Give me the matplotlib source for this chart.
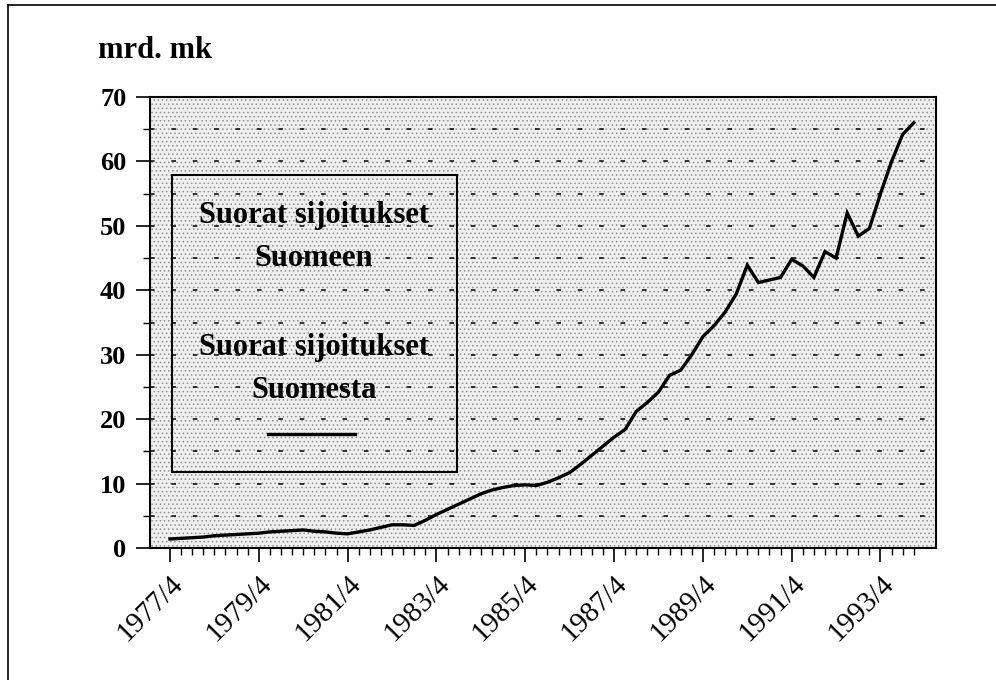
import matplotlib.pyplot as plt
from matplotlib.patches import Rectangle
from matplotlib.lines import Line2D
import numpy as np

# kvartaalit 1977/4 ... 1994/3, mrd. mk
start_year = 1977
start_quarter = 4
suomesta = [1.4, 1.5, 1.6, 1.7, 1.9, 2.0, 2.1, 2.2, 2.3, 2.5,
            2.6, 2.7, 2.8, 2.6, 2.5, 2.3, 2.2, 2.5, 2.8, 3.2,
            3.6, 3.6, 3.5, 4.3, 5.2, 6.0, 6.8, 7.6, 8.4, 9.0,
            9.4, 9.7, 9.8, 9.7, 10.2, 10.9, 11.7, 13.0, 14.4, 15.8,
            17.2, 18.4, 21.2, 22.6, 24.2, 26.8, 27.6, 30.0, 32.8, 34.5,
            36.6, 39.4, 43.9, 41.2, 41.6, 42.0, 44.8, 43.8, 42.0, 46.0,
            45.0, 52.0, 48.4, 49.6, 55.0, 60.0, 64.2, 66.0]
legend_lines = ["Suorat sijoitukset", "Suomeen", "Suorat sijoitukset", "Suomesta"]
y_label = "mrd. mk"

n = len(suomesta)
x = np.arange(n)
tick_pos = np.arange(0, n, 8)
tick_labels = []
for p in tick_pos:
    q = start_quarter - 1 + p
    tick_labels.append("%d/%d" % (start_year + q // 4, q % 4 + 1))

serif = ["Liberation Serif", "DejaVu Serif"]
plt.rcParams['font.family'] = serif
plt.rcParams['hatch.linewidth'] = 0.6

fig = plt.figure(figsize=(9.96, 6.8), dpi=100)
ax = fig.add_axes([150 / 996, 132 / 680, 786 / 996, 451 / 680])

# stippled background
ax.patch.set_facecolor('#efefef')
ax.add_patch(Rectangle((0, 0), 1, 1, transform=ax.transAxes, facecolor='none',
                       edgecolor='#8f8f8f', hatch='....', lw=0, zorder=0))

for g in range(5, 70, 5):
    ax.axhline(g, color='black', lw=1.1, ls=(0, (3, 11)), zorder=1)

ax.plot(x, suomesta, color='black', lw=2.4, zorder=3, solid_joinstyle='miter')

ax.set_xlim(-1.8, 69)
ax.set_ylim(0, 70)
ax.set_yticks(range(0, 71, 10))
ax.set_yticks(range(5, 70, 10), minor=True)
ax.set_xticks(tick_pos)
ax.set_xticks(x, minor=True)
ax.set_xticklabels(tick_labels, rotation=45, ha='right', rotation_mode='anchor',
                   fontsize=21)
for lab in ax.get_yticklabels():
    lab.set_fontweight('bold')
    lab.set_fontsize(19)
ax.tick_params(axis='y', which='major', length=10, width=1.2, pad=7)
ax.tick_params(axis='y', which='minor', length=5, width=1.0)
ax.tick_params(axis='x', which='major', length=10, width=1.2, pad=6)
ax.tick_params(axis='x', which='minor', length=5, width=1.0)
for s in ax.spines.values():
    s.set_linewidth(1.5)

# legend box
ax.add_patch(Rectangle((22 / 786, 76 / 451), 285 / 786, 297 / 451, transform=ax.transAxes,
                       facecolor='none', edgecolor='black', lw=1.5, zorder=4))
cx = 164 / 786
for txt, yy in zip(legend_lines, [333, 290, 200, 158]):
    ax.text(cx, yy / 451, txt, transform=ax.transAxes, ha='center', va='center',
            fontsize=22, fontweight='bold', zorder=5)
ax.add_line(Line2D([118 / 786, 205 / 786], [114 / 451, 114 / 451], transform=ax.transAxes,
                   color='black', lw=2.4, zorder=5))

fig.text(98 / 996, 1 - 50 / 680, y_label, ha='left', va='center', fontsize=22,
         fontweight='bold')

# outer frame (left and top)
fig.add_artist(Line2D([8 / 996, 8 / 996], [0, 1 - 5 / 680], transform=fig.transFigure,
                      color='black', lw=1.2))
fig.add_artist(Line2D([8 / 996, 1], [1 - 5 / 680, 1 - 5 / 680], transform=fig.transFigure,
                      color='black', lw=1.2))

fig.savefig('out.png', dpi=100)
